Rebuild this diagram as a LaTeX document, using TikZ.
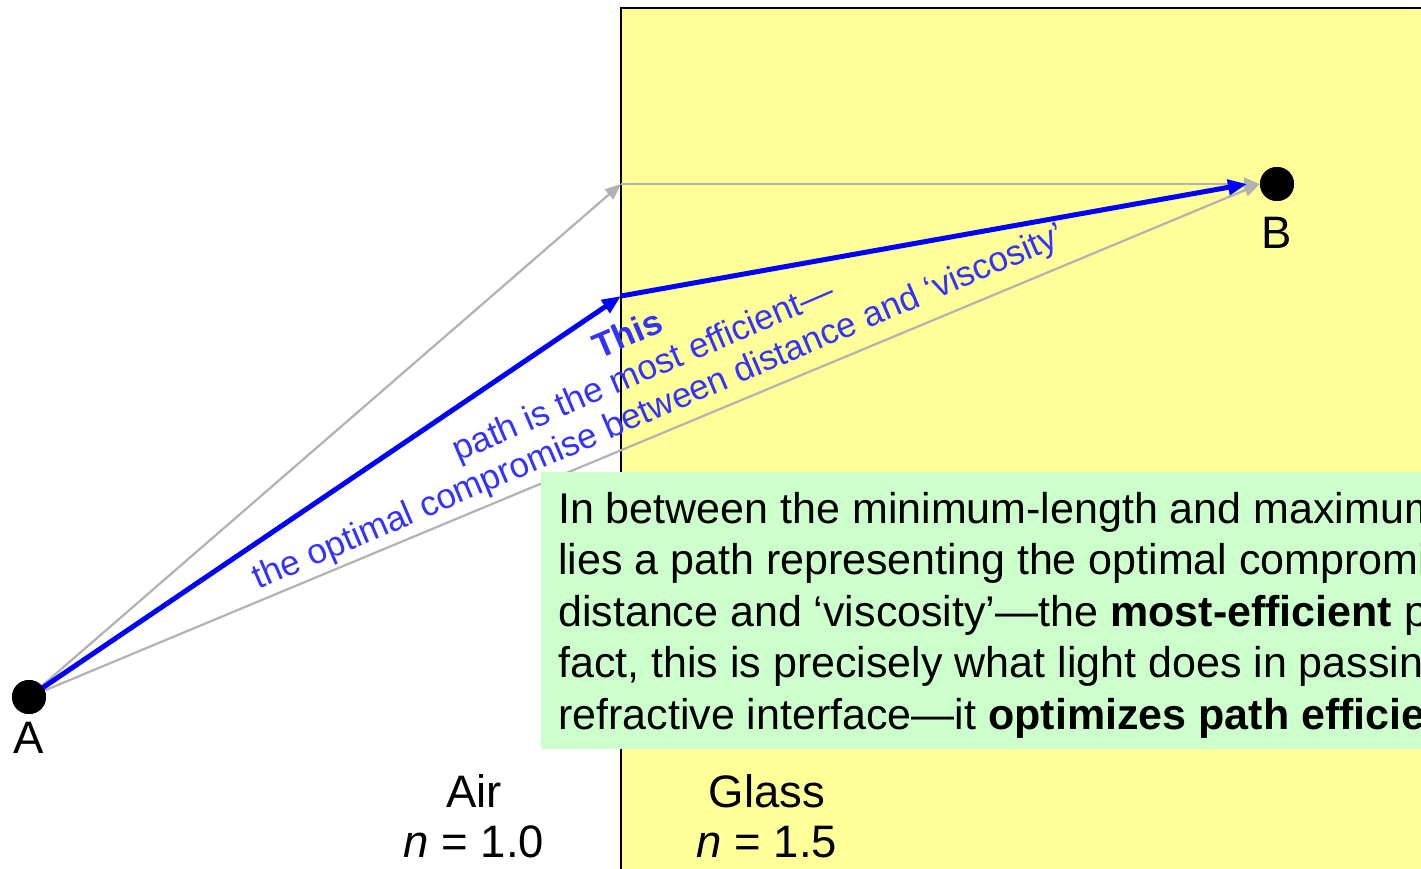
\documentclass[tikz,border=0pt]{standalone}
\usepackage{fontspec}
\setmainfont{Liberation Sans}
\usetikzlibrary{arrows.meta}
\definecolor{glassyellow}{HTML}{FFFF99}
\definecolor{notegreen}{HTML}{CCFFCC}
\definecolor{raygray}{HTML}{B2B2B2}
\definecolor{rayblue}{HTML}{0000FF}
\definecolor{labelblue}{HTML}{3333FF}
\begin{document}
\begin{tikzpicture}[x=1pt,y=-1pt,
  grayray/.style={draw=raygray, line width=2.2pt, -{Triangle[length=16pt,width=13pt]}},
  blueray/.style={draw=rayblue, line width=5pt, -{Triangle[length=19pt,width=15pt]}},
  dot/.style={circle, fill=black, inner sep=0pt, minimum size=34pt},
  lbl/.style={font=\fontsize{45.5}{50}\selectfont, inner sep=0pt},
  boxtext/.style={font=\fontsize{43}{51.5}\selectfont, inner sep=0pt, align=left},
  slanttext/.style={font=\fontsize{35}{39}\selectfont, text=labelblue, inner sep=0pt, align=center},
]
\useasboundingbox (0,0) rectangle (1421,868);
\clip (0,0) rectangle (1421,868);
% glass region
\path[fill=glassyellow, draw=black, line width=1.6pt] (621,8) rectangle (1460,900);
% points
\node[dot] (A) at (29,697) {};
\node[dot] (B) at (1277,184) {};
\coordinate (K1) at (621,184);
\coordinate (K2) at (621,296);
\coordinate (Bin) at (1247,184);
% grey reference rays
\draw[grayray] (A.center) -- (K1);
\draw[grayray] (K1) -- (B.west);
\draw[grayray] (A.center) -- (B.west);
% optimal path
\draw[blueray] (A.center) -- (K2);
\draw[blueray] (K2) -- (Bin);
% redraw dots on top
\node[dot] at (A) {};
\node[dot] at (B) {};
% slanted label
\node[slanttext, rotate=23.2, anchor=north] (pathnote) at (621,319)
  {\rule{0pt}{28pt}\textbf{This}\\path is the most efficient—\\the optimal compromise between distance and ‘viscosity’};
% explanation box
\path[fill=notegreen] (541,472) rectangle (1460,749);
\node[boxtext, anchor=north west] (explain) at (558,491)
  {\rule{0pt}{32pt}In between the minimum-length and maximum\\
   lies a path representing the optimal compromise\\
   distance and ‘viscosity’—the \textbf{most-efficient} path\\
   fact, this is precisely what light does in passing\\
   refractive interface—it \textbf{optimizes path efficiency}};
% labels
\node[lbl, anchor=base] (Alabel) at (29,753) {A};
\node[lbl, anchor=base] (Blabel) at (1277,248) {B};
\node[lbl, align=center, anchor=north] (air) at (474,773) {\rule{0pt}{34pt}Air\\\textit{n} = 1.0};
\node[lbl, align=center, anchor=north] (glass) at (767,773) {\rule{0pt}{34pt}Glass\\\textit{n} = 1.5};
\end{tikzpicture}
\end{document}
